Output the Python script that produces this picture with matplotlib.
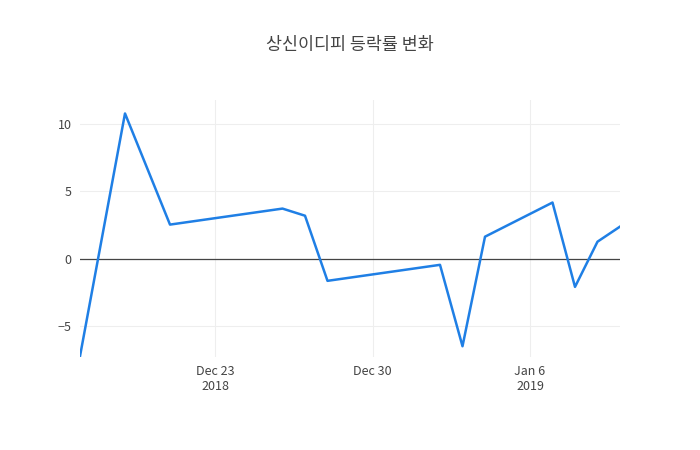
import numpy as np
import pandas as pd
import matplotlib.pyplot as plt
import matplotlib.dates as mdates

plt.rcParams['font.family'] = ['Noto Sans CJK KR', 'DejaVu Sans']

dates = pd.to_datetime(['2018-12-17', '2018-12-19', '2018-12-21', '2018-12-26', '2018-12-27',
                        '2018-12-28', '2019-01-02', '2019-01-03', '2019-01-04', '2019-01-07',
                        '2019-01-08', '2019-01-09', '2019-01-10'])
rates = [-7.24, 10.8, 2.54, 3.73, 3.2, -1.64, -0.45, -6.5, 1.64, 4.18, -2.09, 1.27, 2.39]

fig = plt.figure(figsize=(7, 4.5), dpi=100)
ax = fig.add_axes([80/700, 1-357/450, 540/700, 257/450])

ax.plot(dates, rates, color='#1f7fe5', lw=1.8, zorder=3)
ax.axhline(0, color='#444444', lw=0.9, zorder=2)

ax.set_xlim(dates[0], dates[-1])
ax.set_ylim(-7.3, 11.8)
ax.set_yticks([-5, 0, 5, 10])
ax.set_yticklabels(['−5', '0', '5', '10'])
ticks = pd.to_datetime(['2018-12-23', '2018-12-30', '2019-01-06'])
ax.set_xticks(ticks)
ax.set_xticklabels(['Dec 23\n2018', 'Dec 30', 'Jan 6\n2019'])
ax.grid(True, color='#eeeeee', lw=0.8)
for s in ax.spines.values():
    s.set_visible(False)
ax.tick_params(length=0, colors='#444444', labelsize=9, pad=6)

fig.text(0.5, 1-45/450, '상신이디피 등락률 변화', ha='center', va='center', fontsize=12.5, color='#444444')

fig.savefig('out.png', dpi=100)
